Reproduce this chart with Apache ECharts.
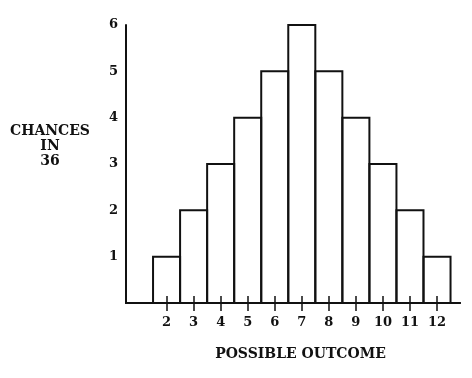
<!DOCTYPE html>
<html>
<head>
<meta charset="utf-8">
<script src="https://cdn.jsdelivr.net/npm/echarts@6/dist/echarts.min.js"></script>
<style>
  html, body { margin: 0; padding: 0; background: #fff; }
  #chart { width: 472px; height: 378px; }
</style>
</head>
<body>
<div id="chart"></div>
<script>
// dice totals and their chances in 36
const outcomes = [2, 3, 4, 5, 6, 7, 8, 9, 10, 11, 12]
const chances = [1, 2, 3, 4, 5, 6, 5, 4, 3, 2, 1]
const yTicks = [1, 2, 3, 4, 5, 6]

const font = 'DejaVu Serif'
const ink = '#111'

const chart = echarts.init(document.getElementById('chart'))

const baseX = {
  type: 'value',
  min: 0.5,
  max: 12.85,
  splitLine: { show: false },
  axisLine: { show: true, lineStyle: { color: ink, width: 2 } }
}

// each bar spans one whole unit, so neighbours share an edge
function renderBar(params, api) {
  const x = api.value(0)
  const y = api.value(1)
  const p0 = api.coord([x - 0.5, y])
  const p1 = api.coord([x + 0.5, 0])
  return {
    type: 'rect',
    shape: { x: p0[0], y: p0[1], width: p1[0] - p0[0], height: p1[1] - p0[1] },
    style: { fill: 'none', stroke: ink, lineWidth: 2 }
  }
}

chart.setOption({
  animation: false,
  backgroundColor: '#fff',
  title: {
    text: 'CHANCES\nIN\n36',
    left: 50,
    top: 124,
    textAlign: 'center',
    padding: 0,
    textStyle: { fontFamily: font, fontWeight: 'bold', fontSize: 14, color: ink, lineHeight: 15 }
  },
  grid: { left: 126, right: 12, top: 25, bottom: 75 },
  xAxis: [
    Object.assign({}, baseX, {
      name: 'POSSIBLE OUTCOME',
      nameLocation: 'middle',
      nameGap: 44,
      nameTextStyle: { fontFamily: font, fontWeight: 'bold', fontSize: 14, color: ink, padding: [0, 0, 0, 15] },
      axisTick: { show: true, customValues: outcomes, length: 8, lineStyle: { color: ink, width: 1.5 } },
      axisLabel: {
        customValues: outcomes,
        margin: 13,
        fontFamily: font, fontWeight: 'bold', fontSize: 13, color: ink
      }
    }),
    Object.assign({}, baseX, {
      position: 'bottom',
      axisTick: { show: true, inside: true, customValues: outcomes, length: 7, lineStyle: { color: ink, width: 1.5 } },
      axisLabel: { show: false }
    })
  ],
  yAxis: {
    type: 'value',
    min: 0,
    max: 6,
    interval: 1,
    splitLine: { show: false },
    axisTick: { show: false },
    axisLine: { show: true, lineStyle: { color: ink, width: 2 } },
    axisLabel: {
      margin: 8,
      fontFamily: font, fontWeight: 'bold', fontSize: 13, color: ink,
      padding: [0, 0, 8, 0],
      formatter: v => (yTicks.indexOf(v) >= 0 ? String(v) : '')
    }
  },
  series: [{
    type: 'custom',
    renderItem: renderBar,
    data: outcomes.map((o, i) => [o, chances[i]]),
    encode: { x: 0, y: 1 }
  }]
})
</script>
</body>
</html>
